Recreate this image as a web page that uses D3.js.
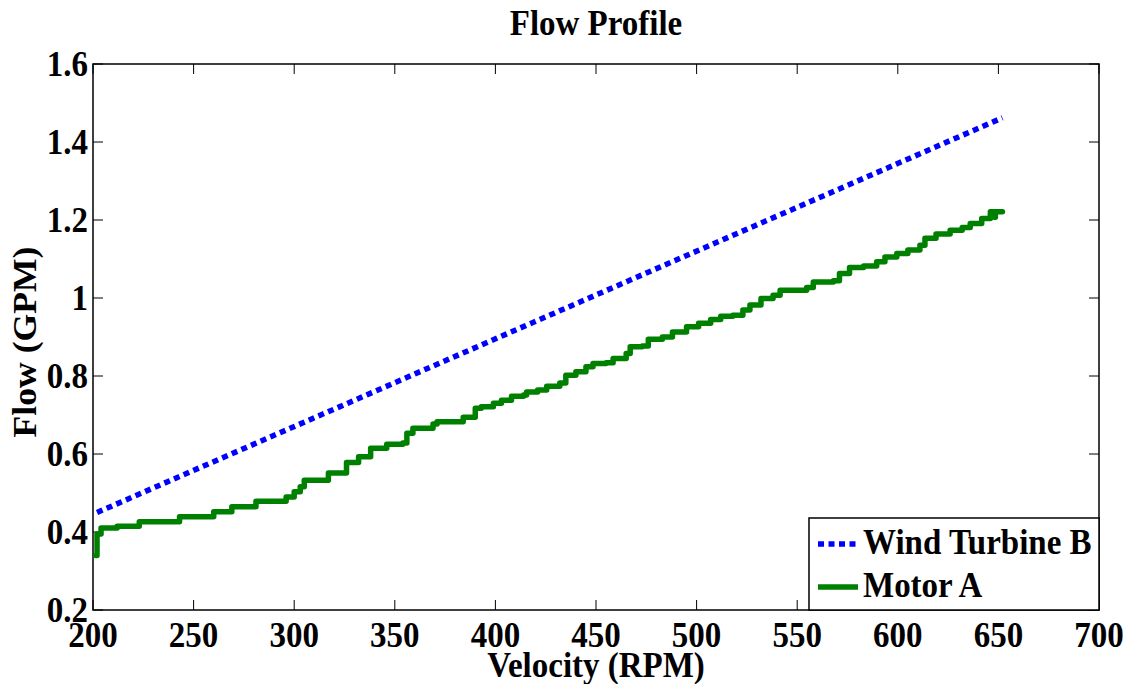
<!DOCTYPE html>
<html>
<head>
<meta charset="utf-8">
<script src="https://cdn.jsdelivr.net/npm/d3@7"></script>
<style>
  html, body { margin: 0; padding: 0; background: #fff; }
  svg { display: block; }
  text { font-family: "Liberation Serif", "Times New Roman", serif; font-weight: bold; fill: #000; }
</style>
</head>
<body>
<svg id="chart" width="1125" height="684"></svg>
<script>
// Wind turbine B: straight flow line across the speed range
const turbineRpm  = [202, 652];
const turbineFlow = [0.45, 1.462];

// Motor A: stepped measured flow (each value holds until the next speed)
const motorRpm = [201.4, 202, 204, 212, 223, 243, 260, 269, 281, 296, 300, 303, 305, 317, 326, 332, 338, 346, 354, 356, 359,
  369, 371, 384, 390, 393, 399, 403, 408, 414, 415.5, 421, 425.5, 432, 435, 440, 445, 448.5, 455, 458.5, 465, 467,
  473, 476, 483, 488, 495, 501, 507, 512, 518, 523, 526.5, 532, 538, 541.5, 554.7, 558, 568, 571, 576, 583, 589.5,
  593.6, 599.5, 605, 611, 613.5, 619, 626, 632, 636, 641.7, 646, 648, 648.5, 652];
const motorFlow = [0.34, 0.395, 0.41, 0.415, 0.426, 0.439, 0.452, 0.465, 0.479, 0.49, 0.503, 0.516, 0.533, 0.551, 0.578, 0.593, 0.615, 0.625, 0.628, 0.653, 0.666,
  0.677, 0.683, 0.694, 0.717, 0.721, 0.73, 0.738, 0.748, 0.751, 0.759, 0.764, 0.774, 0.782, 0.802, 0.811, 0.824, 0.832, 0.834, 0.845, 0.858, 0.875,
  0.877, 0.894, 0.9, 0.913, 0.926, 0.935, 0.945, 0.953, 0.956, 0.969, 0.982, 0.999, 1.007, 1.02, 1.027, 1.041, 1.044, 1.063, 1.078, 1.082, 1.093,
  1.105, 1.114, 1.123, 1.135, 1.153, 1.164, 1.174, 1.181, 1.191, 1.204, 1.221, 1.207, 1.221, 1.221];

const xTicks = [200, 250, 300, 350, 400, 450, 500, 550, 600, 650, 700];
const yTicks = [0.2, 0.4, 0.6, 0.8, 1.0, 1.2, 1.4, 1.6];
const seriesNames = ["Wind Turbine B", "Motor A"];
const seriesColors = ["#0000ff", "#008000"];

const svg = d3.select("#chart");
const plotLeft = 93, plotRight = 1099, plotTop = 64, plotBottom = 610;

const x = d3.scaleLinear().domain([200, 700]).range([plotLeft, plotRight]);
const y = d3.scaleLinear().domain([0.2, 1.6]).range([plotBottom, plotTop]);

const fontSize = 33;
const stretch = 1.08;   // glyphs are drawn slightly taller than wide
const place = (px, py, rot) =>
  `translate(${px},${py})` + (rot ? ` rotate(${rot})` : "") + ` scale(${rot ? stretch : 1},${rot ? 1 : stretch})`;

// Box frame
svg.append("rect")
  .attr("x", plotLeft).attr("y", plotTop)
  .attr("width", plotRight - plotLeft).attr("height", plotBottom - plotTop)
  .attr("fill", "none").attr("stroke", "#000").attr("stroke-width", 1.5);

// Inward ticks on all four sides
const tickLen = 10;
const tickG = svg.append("g").attr("stroke", "#000").attr("stroke-width", 1);
xTicks.forEach(t => {
  tickG.append("line").attr("x1", x(t)).attr("x2", x(t)).attr("y1", plotBottom).attr("y2", plotBottom - tickLen);
  tickG.append("line").attr("x1", x(t)).attr("x2", x(t)).attr("y1", plotTop).attr("y2", plotTop + tickLen);
});
yTicks.forEach(t => {
  tickG.append("line").attr("y1", y(t)).attr("y2", y(t)).attr("x1", plotLeft).attr("x2", plotLeft + tickLen);
  tickG.append("line").attr("y1", y(t)).attr("y2", y(t)).attr("x1", plotRight).attr("x2", plotRight - tickLen);
});

// Tick labels
const fmtY = d => (d === 1 ? "1" : d3.format(".1f")(d));
svg.append("g").selectAll("text").data(xTicks).join("text")
  .attr("transform", d => place(x(d), 647))
  .attr("text-anchor", "middle")
  .attr("font-size", fontSize)
  .text(d => d);
svg.append("g").selectAll("text").data(yTicks).join("text")
  .attr("transform", d => place(88, y(d) + 12))
  .attr("text-anchor", "end")
  .attr("font-size", fontSize)
  .text(fmtY);

// Series lines
const plot = svg.append("g");
const turbineLine = d3.line().x(d => x(d[0])).y(d => y(d[1]));
plot.append("path")
  .datum(d3.zip(turbineRpm, turbineFlow))
  .attr("d", turbineLine)
  .attr("fill", "none")
  .attr("stroke", seriesColors[0])
  .attr("stroke-width", 5.5)
  .attr("stroke-dasharray", "6,4.5");

const motorLine = d3.line().x(d => x(d[0])).y(d => y(d[1])).curve(d3.curveStepAfter);
plot.append("path")
  .datum(d3.zip(motorRpm, motorFlow))
  .attr("d", motorLine)
  .attr("fill", "none")
  .attr("stroke", seriesColors[1])
  .attr("stroke-width", 5.5)
  .attr("stroke-linejoin", "round")
  .attr("stroke-linecap", "round");

// Title and axis labels
svg.append("text")
  .attr("transform", place((plotLeft + plotRight) / 2, 35))
  .attr("text-anchor", "middle")
  .attr("font-size", fontSize)
  .text("Flow Profile");
svg.append("text")
  .attr("transform", place((plotLeft + plotRight) / 2, 677))
  .attr("text-anchor", "middle")
  .attr("font-size", fontSize)
  .text("Velocity (RPM)");
svg.append("text")
  .attr("transform", place(36, 342, -90))
  .attr("text-anchor", "middle")
  .attr("font-size", 33)
  .text("Flow (GPM)");

// Legend
const legend = svg.append("g");
legend.append("rect")
  .attr("x", 809).attr("y", 518)
  .attr("width", plotRight - 809).attr("height", plotBottom - 518)
  .attr("fill", "#fff").attr("stroke", "#000").attr("stroke-width", 1.5);
const legendRows = [544, 587];
seriesNames.forEach((name, i) => {
  const ly = legendRows[i];
  legend.append("line")
    .attr("x1", 818).attr("x2", 858)
    .attr("y1", ly).attr("y2", ly)
    .attr("stroke", seriesColors[i])
    .attr("stroke-width", 5.5)
    .attr("stroke-dasharray", i === 0 ? "6,4.5" : null);
  legend.append("text")
    .attr("transform", place(863, ly + 10))
    .attr("font-size", fontSize)
    .text(name);
});
</script>
</body>
</html>
